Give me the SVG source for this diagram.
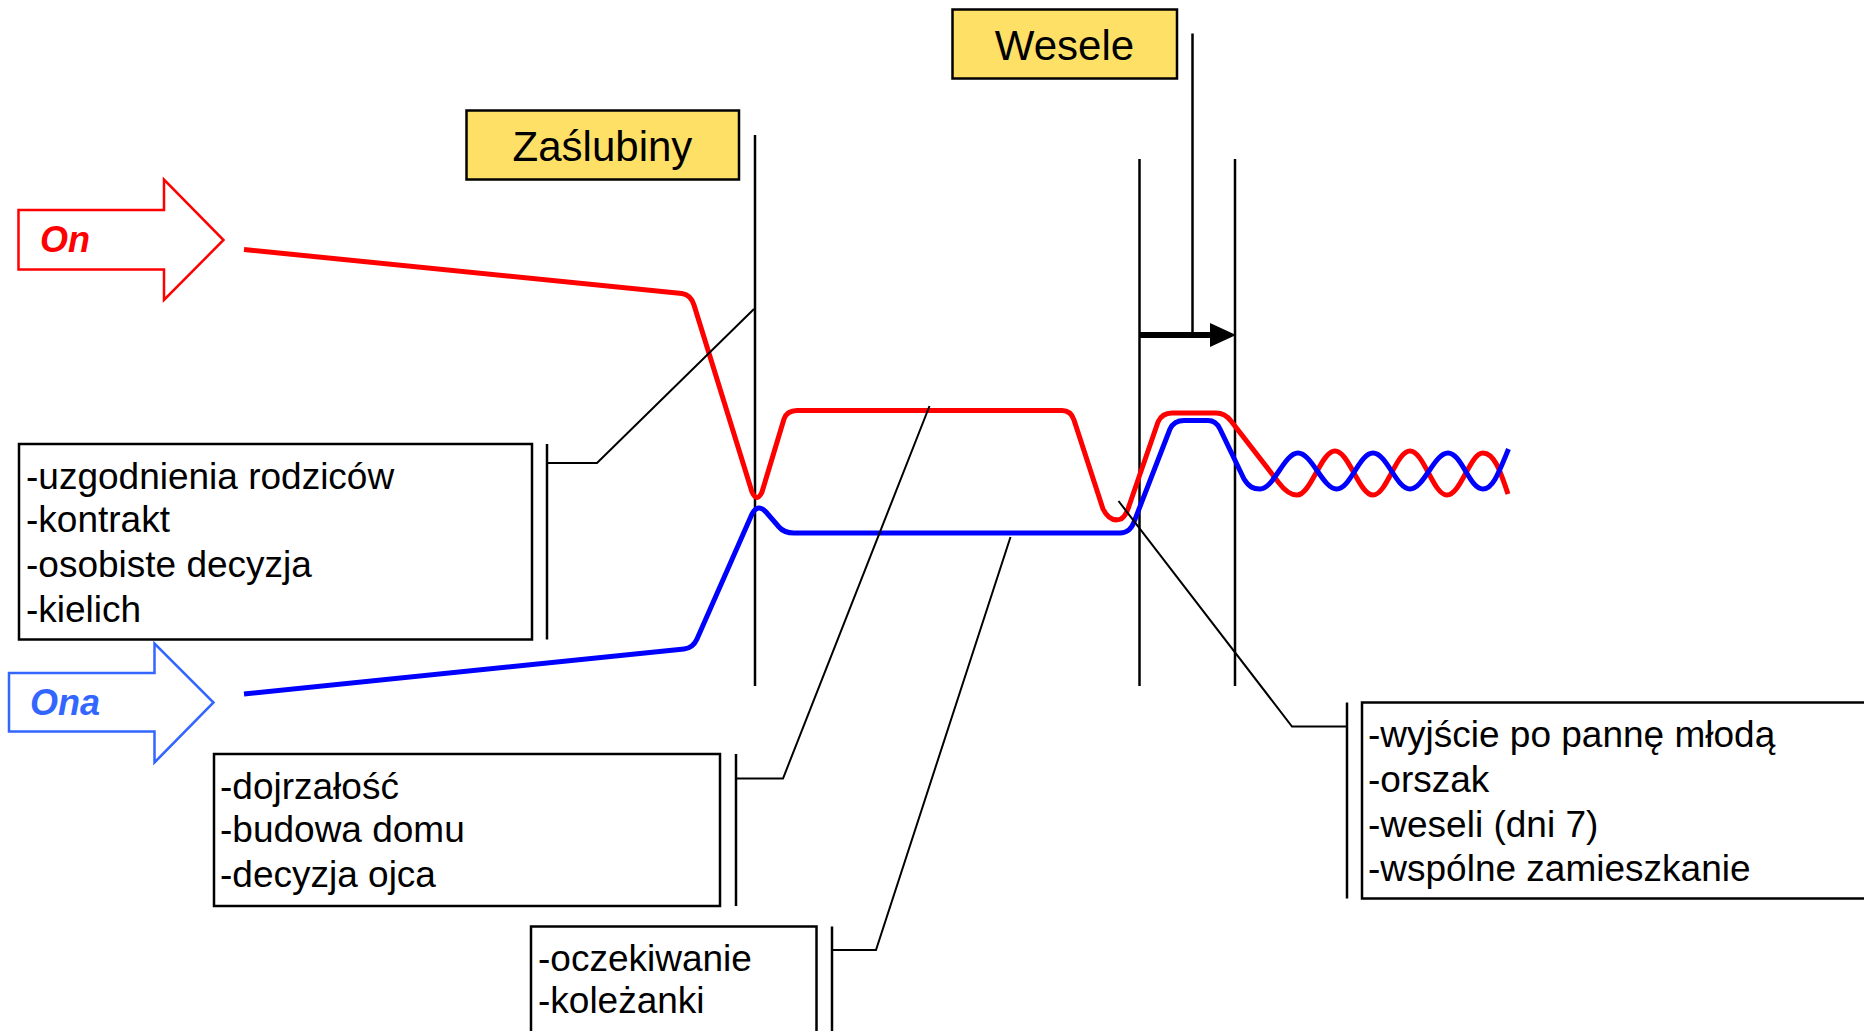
<svg xmlns="http://www.w3.org/2000/svg" width="1864" height="1031" viewBox="0 0 1864 1031">
<style>
.bg{fill:#ffffff}
.title{fill:#FFE066;stroke:#000;stroke-width:2.5}
.box{fill:#ffffff;stroke:#000;stroke-width:2.5}
.t{font-family:"Liberation Sans",Arial,sans-serif;font-size:37px;fill:#000}
.tt{font-family:"Liberation Sans",Arial,sans-serif;font-size:42px;fill:#000;text-anchor:middle}
.who{font-family:"Liberation Sans",Arial,sans-serif;font-size:36px;font-weight:bold;font-style:italic}
.vl{stroke:#000;stroke-width:2.5;fill:none}
.cn{stroke:#000;stroke-width:2;fill:none}
.life{fill:none;stroke-width:5;stroke-linejoin:round;stroke-linecap:butt}
</style>
<rect class="bg" x="0" y="0" width="1864" height="1031"/>

<g id="on-arrow">
<path d="M18.5,210 L164,210 L164,179.5 L223.5,240 L164,300 L164,269.5 L18.5,269.5 Z" fill="#fff" stroke="#FF0000" stroke-width="2.5"/>
<text class="who" x="40" y="252" fill="#FF0000">On</text>
</g>
<g id="ona-arrow">
<path d="M9,673 L154.5,673 L154.5,643.5 L213.5,702.5 L154.5,762.5 L154.5,731.5 L9,731.5 Z" fill="#fff" stroke="#3366FF" stroke-width="2.5"/>
<text class="who" x="30" y="715" fill="#3366FF">Ona</text>
</g>

<g id="zaslubiny">
<rect class="title" x="466.5" y="110.5" width="272.5" height="69"/>
<text class="tt" x="602.5" y="161">Zaślubiny</text>
</g>
<g id="wesele">
<rect class="title" x="952.5" y="9.5" width="224.5" height="69"/>
<text class="tt" x="1064.5" y="60">Wesele</text>
</g>

<g id="timeline-lines">
<line class="vl" x1="755" y1="135" x2="755" y2="686"/>
<line class="vl" x1="1139.5" y1="159" x2="1139.5" y2="686"/>
<line class="vl" x1="1235" y1="159" x2="1235" y2="686"/>
<line class="vl" x1="1192.5" y1="33.5" x2="1192.5" y2="335"/>
</g>

<g id="wesele-arrow">
<line x1="1139.5" y1="335" x2="1213" y2="335" stroke="#000" stroke-width="6"/>
<polygon points="1210,323 1236,335 1210,347" fill="#000"/>
</g>

<g id="on-life">
<path class="life" stroke="#FF0000" d="M244,249.5 L682,293.5 Q691,295 694,305 L752,492 Q757,503 762,492 L784,419 Q787,410.5 797,410.5 L1062,410.5 Q1071,410.5 1074,420 L1103,509 Q1110,523 1121,519 Q1126,516 1129,506 L1158,422 Q1162,413 1172,413 L1216,413 Q1225,413 1231,421 L1279,483 C1285,491 1290,495 1297,495 C1310.8,495 1321.2,451 1335,451 S1359.2,495 1373,495 S1396.2,451 1410,451 S1433.2,495 1447,495 S1470,453 1483,453 C1494,453 1500,470 1508,494"/>
</g>
<g id="ona-life">
<path class="life" stroke="#0000FF" d="M244,694 L684,649 Q693,648 697,639 L752,514 Q758,503 766,512 L779,527 Q784,533 794,533 L1120,533 Q1130,533 1134,522 L1170,429 Q1174,420.5 1184,420.5 L1208,420.5 Q1216,420.5 1220,429 L1244,479 C1249,487 1253,489 1260,489 C1273.8,489 1284.2,453 1298,453 S1322.9,489 1336.7,489 S1359.2,453 1373,453 S1396.2,489 1410,489 S1434.2,453 1448,453 S1469.2,489 1483,489 C1493,489 1499,472 1508.5,449"/>
</g>

<g id="box-parents">
<rect class="box" x="19" y="444" width="513" height="195.5"/>
<text class="t" x="26" y="489">-uzgodnienia rodziców</text>
<text class="t" x="26" y="532">-kontrakt</text>
<text class="t" x="26" y="577">-osobiste decyzja</text>
<text class="t" x="26" y="622">-kielich</text>
</g>
<g id="box-maturity">
<rect class="box" x="214" y="754" width="506" height="152"/>
<text class="t" x="220" y="799">-dojrzałość</text>
<text class="t" x="220" y="842">-budowa domu</text>
<text class="t" x="220" y="887">-decyzja ojca</text>
</g>
<g id="box-waiting">
<rect class="box" x="531" y="926.5" width="285.5" height="130"/>
<text class="t" x="538" y="971">-oczekiwanie</text>
<text class="t" x="538" y="1013">-koleżanki</text>
</g>
<g id="box-wedding">
<rect class="box" x="1362" y="702.5" width="520" height="196"/>
<text class="t" x="1368" y="747">-wyjście po pannę młodą</text>
<text class="t" x="1368" y="792">-orszak</text>
<text class="t" x="1368" y="837">-weseli (dni 7)</text>
<text class="t" x="1368" y="881">-wspólne zamieszkanie</text>
</g>

<g id="connectors">
<line class="vl" x1="547" y1="444" x2="547" y2="639.5"/>
<polyline class="cn" points="547,463 597,463 754,309"/>
<line class="vl" x1="736" y1="754" x2="736" y2="906"/>
<polyline class="cn" points="736,778.5 783,778.5 929.5,406"/>
<line class="vl" x1="832" y1="926.5" x2="832" y2="1040"/>
<polyline class="cn" points="832,950 876,950 1010.5,537"/>
<line class="vl" x1="1347" y1="702.5" x2="1347" y2="898.5"/>
<polyline class="cn" points="1347,726.5 1292,726.5 1118.5,501"/>
</g>
</svg>
